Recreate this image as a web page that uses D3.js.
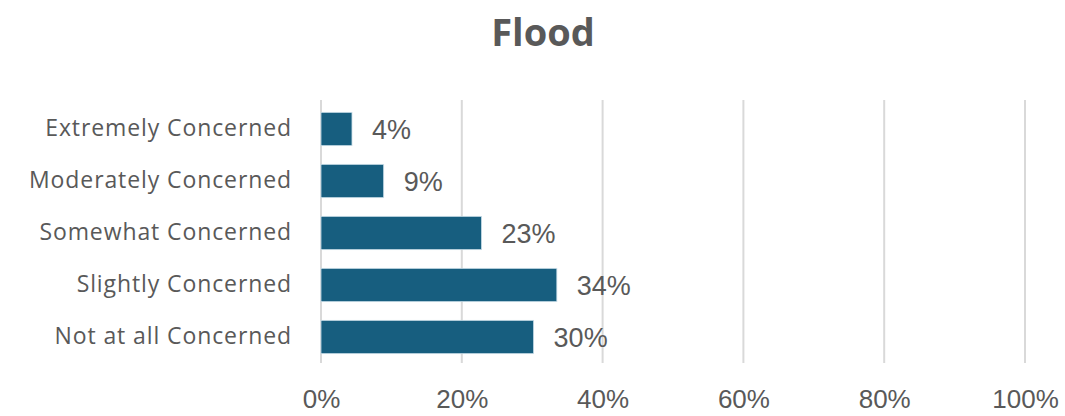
<!DOCTYPE html>
<html>
<head>
<meta charset="utf-8">
<script src="https://cdn.jsdelivr.net/npm/d3@7"></script>
<style>
  body { margin: 0; background: #fff; }
  svg text { font-family: "Open Sans", "Liberation Sans", sans-serif; fill: #595959; }
  svg text.num { font-family: "Liberation Sans", Arial, sans-serif; }
</style>
</head>
<body>
<svg id="chart"></svg>
<script>
// data
const categories = ['Extremely Concerned', 'Moderately Concerned', 'Somewhat Concerned', 'Slightly Concerned', 'Not at all Concerned'];
const values = [0.044, 0.089, 0.228, 0.335, 0.302];
const valueLabels = ['4%', '9%', '23%', '34%', '30%'];
const ticks = [0, 0.2, 0.4, 0.6, 0.8, 1.0];

const width = 1065;
const height = 416;
const margin = { top: 103, right: 40, bottom: 53, left: 321 };

const svg = d3.select('#chart')
  .attr('width', width)
  .attr('height', height);

// title
svg.append('text')
  .attr('x', 543)
  .attr('y', 46)
  .attr('text-anchor', 'middle')
  .style('font-size', '38px')
  .style('font-weight', 'bold')
  .text('Flood');

const xScale = d3.scaleLinear()
  .domain([0, 1])
  .range([margin.left, 1025]);

const yScale = d3.scaleBand()
  .domain(categories)
  .range([margin.top, height - margin.bottom])
  .paddingInner(0.36)
  .paddingOuter(0.18);

// gridlines
svg.append('g')
  .selectAll('line')
  .data(ticks)
  .enter()
  .append('line')
  .attr('x1', (d) => xScale(d))
  .attr('x2', (d) => xScale(d))
  .attr('y1', margin.top - 3)
  .attr('y2', height - margin.bottom)
  .attr('stroke', '#d9d9d9')
  .attr('stroke-width', 2);

// bars
svg.selectAll('rect.bar')
  .data(values)
  .enter()
  .append('rect')
  .attr('class', 'bar')
  .attr('x', xScale(0))
  .attr('y', (d, i) => yScale(categories[i]))
  .attr('width', (d) => xScale(d) - xScale(0))
  .attr('height', yScale.bandwidth())
  .attr('fill', '#175e7f')
  .attr('stroke', '#c9dde8')
  .attr('stroke-width', 0.8);

// value labels
svg.selectAll('text.val')
  .data(values)
  .enter()
  .append('text')
  .attr('class', 'val num')
  .attr('x', (d) => xScale(d) + 20)
  .attr('y', (d, i) => yScale(categories[i]) + yScale.bandwidth() / 2)
  .attr('dy', '0.36em')
  .style('font-size', '27px')
  .text((d, i) => valueLabels[i]);

// y axis labels
const yAxis = d3.axisLeft(yScale).tickSize(0).tickPadding(29);
const yG = svg.append('g')
  .attr('transform', `translate(${margin.left}, 0)`)
  .call(yAxis);
yG.select('.domain').remove();
yG.selectAll('text')
  .style('font-size', '23px')
  .style('letter-spacing', '0.9px')
  .attr('fill', '#595959');

// x axis labels
const xAxis = d3.axisBottom(xScale)
  .tickValues(ticks)
  .tickFormat(d3.format('.0%'))
  .tickSize(0)
  .tickPadding(0);
const xG = svg.append('g')
  .attr('transform', `translate(0, 390)`)
  .call(xAxis);
xG.select('.domain').remove();
xG.selectAll('text')
  .attr('class', 'num')
  .style('font-size', '26px')
  .attr('fill', '#595959');
</script>
</body>
</html>
